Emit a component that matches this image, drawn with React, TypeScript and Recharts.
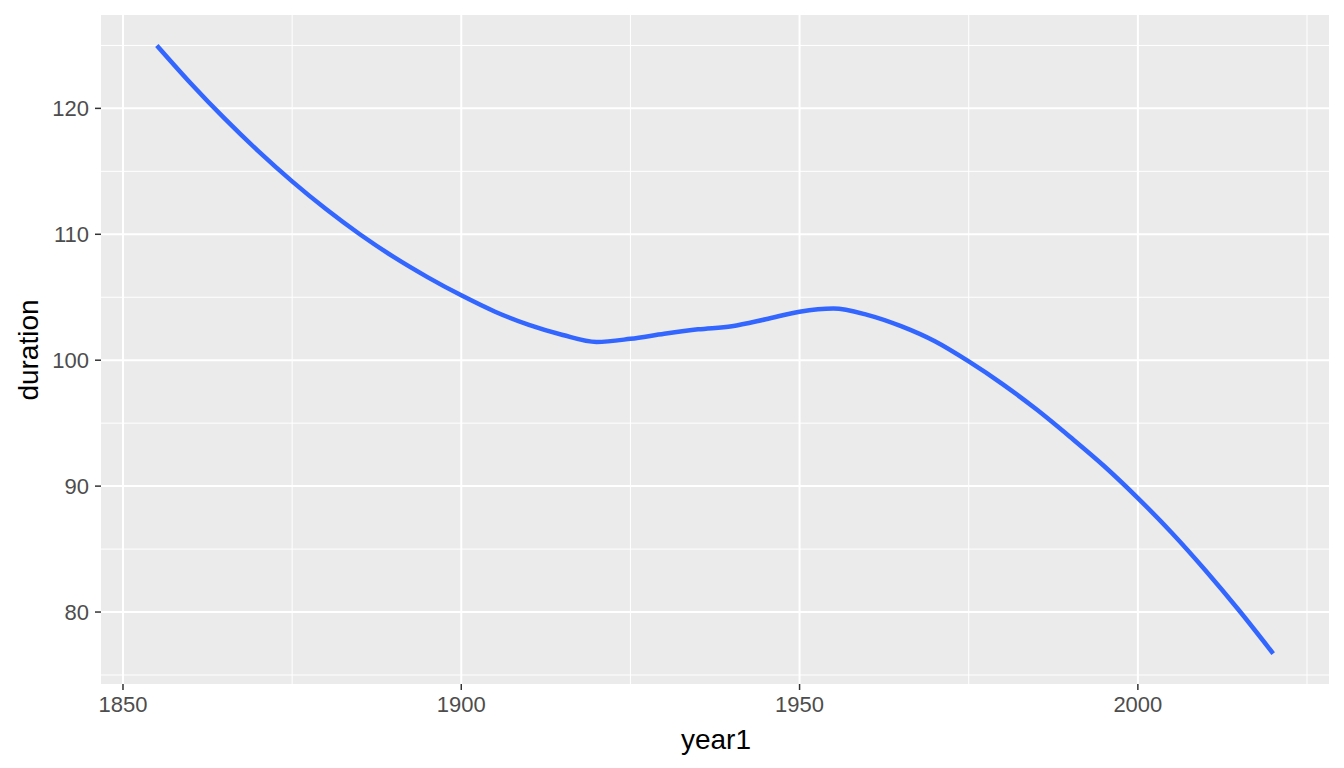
import React from "react";
import { LineChart, Line, XAxis, YAxis, CartesianGrid, Label } from "recharts";

const years = [
  1855, 1860, 1865, 1870, 1875, 1880, 1885, 1890, 1895, 1900, 1905, 1910, 1915, 1920, 1925, 1930,
  1935, 1940, 1945, 1950, 1955, 1960, 1965, 1970, 1975, 1980, 1985, 1990, 1995, 2000, 2005, 2010,
  2015, 2020,
];
const durations = [
  125.0, 122.0, 119.2, 116.6, 114.2, 112.0, 110.0, 108.2, 106.6, 105.15, 103.85, 102.8, 102.0, 101.45,
  101.7, 102.1, 102.45, 102.7, 103.25, 103.85, 104.1, 103.6, 102.7, 101.5, 99.9, 98.1, 96.1, 93.9,
  91.6, 89.05, 86.3, 83.3, 80.1, 76.7,
];

const xTicks = [1850, 1900, 1950, 2000];
const xMinor = [1875, 1925, 1975, 2025];
const yTicks = [80, 90, 100, 110, 120];
const yMinor = [75, 85, 95, 105, 115, 125];

const data = years.map((y, i) => ({ year1: y, duration: durations[i] }));

const FONT = '"Liberation Sans", Arial, Helvetica, sans-serif';

export default function App() {
  return (
    <div style={{ position: "absolute", left: 0, top: 0, background: "#fff" }}>
      <LineChart
        width={1344}
        height={768}
        data={data}
        margin={{ top: 15, right: 15, left: 0, bottom: 0 }}
        style={{ fontFamily: FONT }}
      >
        <CartesianGrid
          fill="#EBEBEB"
          stroke="#fff"
          strokeWidth={1}
          horizontalValues={yMinor}
          verticalValues={xMinor}
        />
        <CartesianGrid
          stroke="#fff"
          strokeWidth={2}
          horizontalValues={yTicks}
          verticalValues={xTicks}
        />
        <XAxis
          dataKey="year1"
          type="number"
          domain={[1846.75, 2028.25]}
          ticks={xTicks}
          allowDataOverflow
          height={84}
          axisLine={false}
          tickSize={6}
          tickMargin={6}
          tickLine={{ stroke: "#333", strokeWidth: 1.5 }}
          tick={{ fill: "#4D4D4D", fontSize: 22, fontFamily: FONT }}
        >
          <Label
            content={() => (
              <text x={716} y={749} textAnchor="middle" fill="#000" fontSize={28} fontFamily={FONT}>
                year1
              </text>
            )}
          />
        </XAxis>
        <YAxis
          type="number"
          domain={[74.285, 127.415]}
          ticks={yTicks}
          allowDataOverflow
          width={101}
          axisLine={false}
          tickSize={6}
          tickMargin={6}
          tickLine={{ stroke: "#333", strokeWidth: 1.5 }}
          tick={{ fill: "#4D4D4D", fontSize: 22, fontFamily: FONT }}
        >
          <Label
            content={() => (
              <text
                x={38}
                y={350}
                textAnchor="middle"
                fill="#000"
                fontSize={28}
                fontFamily={FONT}
                transform="rotate(-90, 38, 350)"
              >
                duration
              </text>
            )}
          />
        </YAxis>
        <Line
          type="monotone"
          dataKey="duration"
          stroke="#3366FF"
          strokeWidth={4.5}
          dot={false}
          activeDot={false}
          isAnimationActive={false}
        />
      </LineChart>
    </div>
  );
}
